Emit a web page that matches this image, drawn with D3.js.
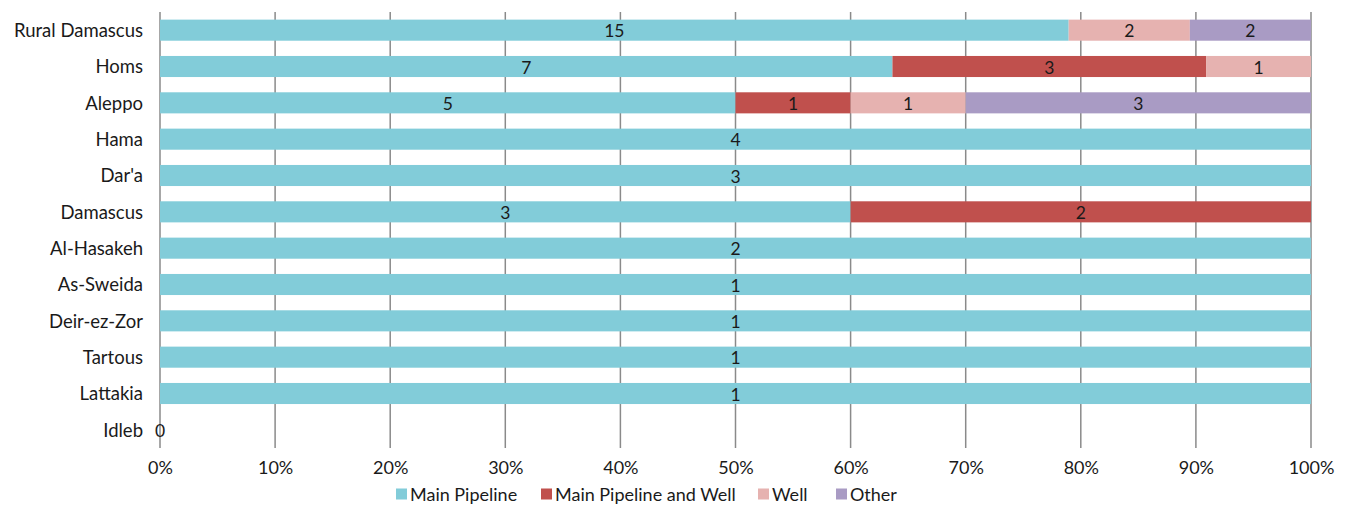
<!DOCTYPE html>
<html>
<head>
<meta charset="utf-8">
<script src="https://cdn.jsdelivr.net/npm/d3@7"></script>
<style>
  body { margin: 0; background: #fff; }
  svg text { font-family: Lato, "Open Sans", sans-serif; fill: #1a1a1a; }
</style>
</head>
<body>
<svg id="chart" width="1351" height="506"></svg>
<script>
// Water source by governorate (counts), shown as 100% stacked bars
const governorates = ["Rural Damascus", "Homs", "Aleppo", "Hama", "Dar'a", "Damascus",
  "Al-Hasakeh", "As-Sweida", "Deir-ez-Zor", "Tartous", "Lattakia", "Idleb"];
const seriesNames = ["Main Pipeline", "Main Pipeline and Well", "Well", "Other"];
const seriesColors = ["#82ccd9", "#c0504d", "#e6b2b0", "#a99bc4"];
const mainPipeline     = [15, 7, 5, 4, 3, 3, 2, 1, 1, 1, 1, 0];
const mainPipelineWell = [0, 3, 1, 0, 0, 2, 0, 0, 0, 0, 0, 0];
const well             = [2, 1, 1, 0, 0, 0, 0, 0, 0, 0, 0, 0];
const other            = [2, 0, 3, 0, 0, 0, 0, 0, 0, 0, 0, 0];
const tickValues = [0, 0.1, 0.2, 0.3, 0.4, 0.5, 0.6, 0.7, 0.8, 0.9, 1.0];

const seriesValues = [mainPipeline, mainPipelineWell, well, other];
const rows = governorates.map((g, i) => {
  const r = { name: g };
  seriesNames.forEach((s, k) => r[s] = seriesValues[k][i]);
  r.total = d3.sum(seriesValues, v => v[i]);
  return r;
});

const svg = d3.select("#chart");
const x = d3.scaleLinear().domain([0, 1]).range([160, 1311]);
const y = d3.scaleBand().domain(governorates).range([12, 448]).paddingInner(0.42).paddingOuter(0.21);

// vertical gridlines
svg.append("g").selectAll("line").data(tickValues).join("line")
  .attr("x1", d => x(d)).attr("x2", d => x(d))
  .attr("y1", 12).attr("y2", 448)
  .attr("stroke", "#8a8a8a").attr("stroke-width", 1.5);

const stack = d3.stack().keys(seriesNames)
  .value((d, k) => d.total ? d[k] / d.total : 0);
const layers = stack(rows);

const g = svg.append("g");
layers.forEach((layer, k) => {
  g.append("g").selectAll("rect").data(layer).join("rect")
    .attr("x", d => x(d[0]))
    .attr("width", d => Math.max(0, x(d[1]) - x(d[0])))
    .attr("y", d => y(d.data.name))
    .attr("height", y.bandwidth())
    .attr("fill", seriesColors[k]);
});

// data labels
layers.forEach((layer, k) => {
  g.append("g").selectAll("text")
    .data(layer.filter(d => d.data[seriesNames[k]] > 0 || (k === 0 && d.data.total === 0)))
    .join("text")
    .attr("x", d => d.data.total ? (x(d[0]) + x(d[1])) / 2 : x(0))
    .attr("y", d => y(d.data.name) + y.bandwidth() / 2 + 1)
    .attr("dy", "0.35em")
    .attr("text-anchor", "middle")
    .attr("font-size", 17.5)
    .text(d => d.data[seriesNames[k]]);
});

// category axis
const yAxis = svg.append("g").attr("transform", "translate(143,1)")
  .call(d3.axisLeft(y).tickSize(0).tickPadding(0));
yAxis.select(".domain").remove();
yAxis.selectAll("text").attr("font-size", 18.5).style("font-family", "Lato, sans-serif").attr("fill", "#1a1a1a");

// percent axis
const xAxis = svg.append("g").attr("transform", "translate(0,458)")
  .call(d3.axisBottom(x).tickValues(tickValues).tickFormat(d3.format(".0%")).tickSize(0).tickPadding(3));
xAxis.select(".domain").remove();
xAxis.selectAll("text").attr("font-size", 18).style("font-family", "Lato, sans-serif").attr("fill", "#1a1a1a");

// legend
const legendX = [396, 541, 758, 836];
const legend = svg.append("g").selectAll("g").data(seriesNames).join("g")
  .attr("transform", (d, i) => `translate(${legendX[i]},494)`);
legend.append("rect").attr("x", 0).attr("y", -5.5).attr("width", 11).attr("height", 11)
  .attr("fill", (d, i) => seriesColors[i]);
legend.append("text").attr("x", 14).attr("dy", "0.37em").attr("font-size", 18).text(d => d);
</script>
</body>
</html>
